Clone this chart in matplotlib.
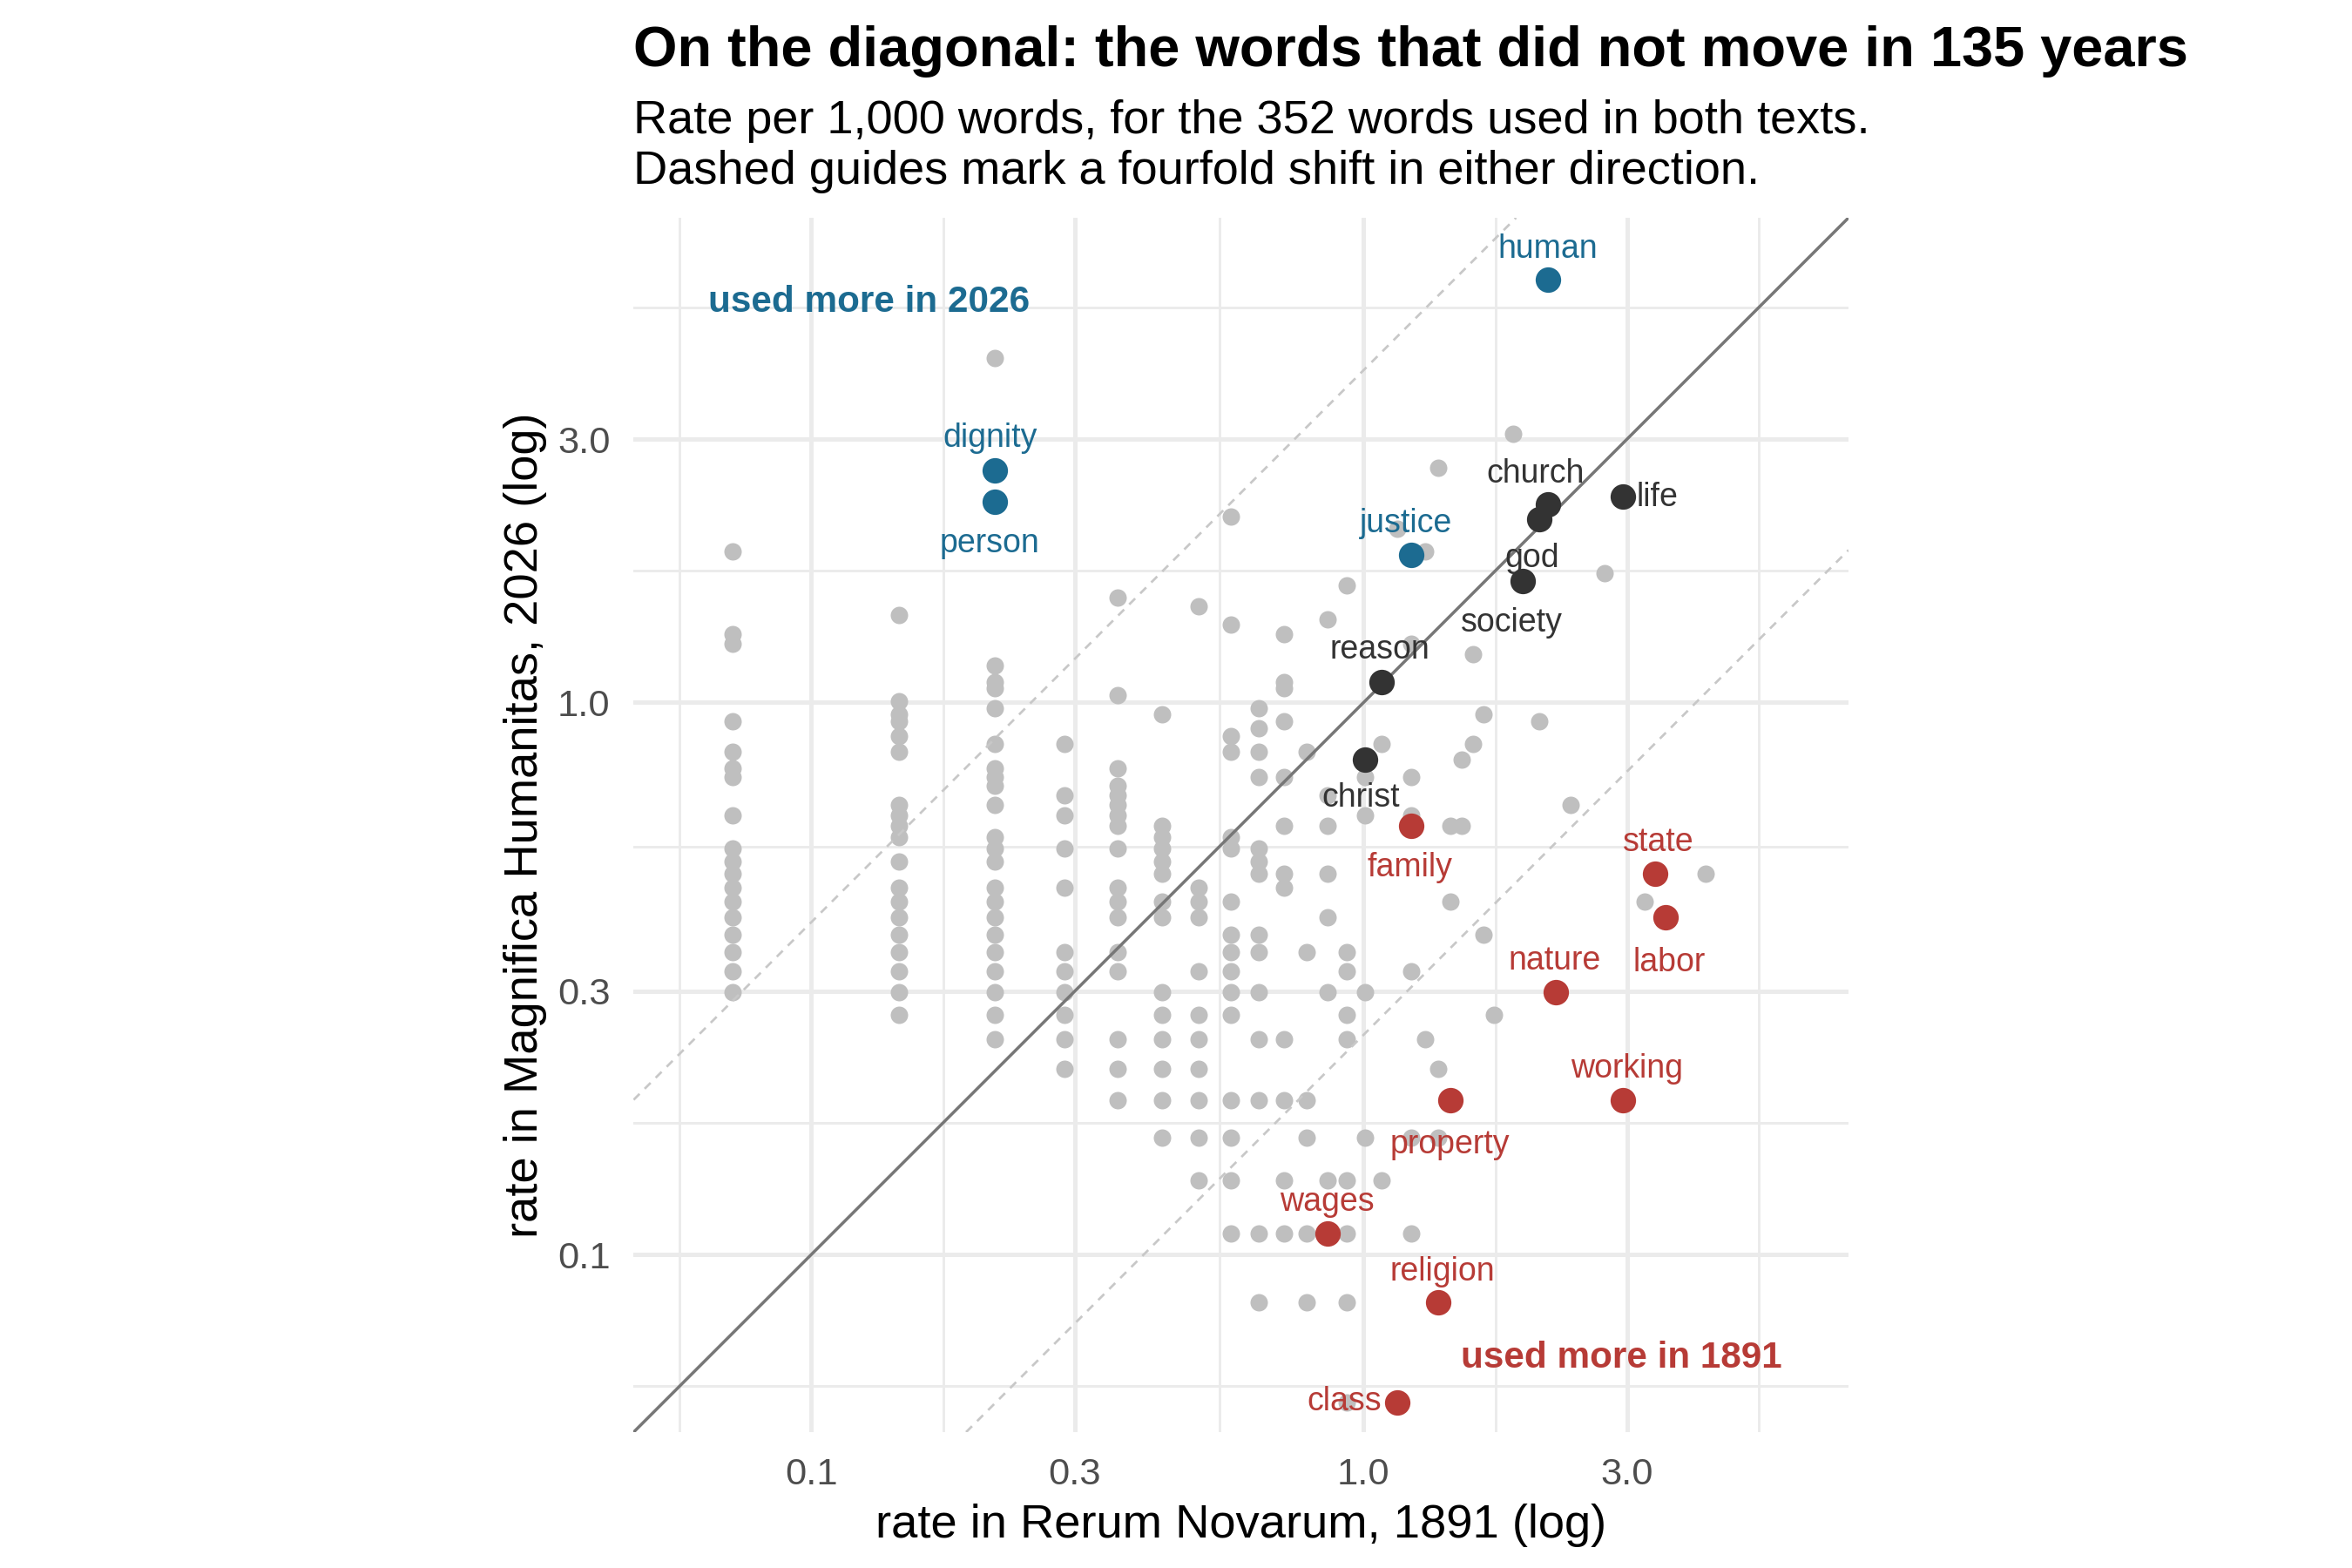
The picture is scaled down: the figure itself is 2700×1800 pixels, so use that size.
import matplotlib
matplotlib.use("Agg")
import matplotlib.pyplot as plt
from matplotlib.ticker import FixedLocator, FixedFormatter, NullFormatter

plt.rcParams['font.family'] = ['Liberation Sans', 'DejaVu Sans']

# ---------------- data (rate per 1,000 words) ----------------
# background words: x rate levels in Rerum Novarum and the 2026 rates found at each level
gray_x_levels = [0.072, 0.144, 0.215, 0.287, 0.359, 0.431, 0.503, 0.574, 0.646, 0.718,
                 0.790, 0.862, 0.933, 1.005, 1.077, 1.149, 1.221, 1.292, 1.364, 1.436,
                 1.508, 1.580, 1.651, 1.723, 1.867, 2.082, 2.369, 2.728, 3.231, 4.164]
gray_y_by_level = [
    [1.875, 1.331, 1.277, 0.924, 0.815, 0.761, 0.734, 0.625, 0.543, 0.516, 0.489, 0.462,
     0.435, 0.408, 0.380, 0.353, 0.326, 0.299],
    [1.440, 1.005, 0.951, 0.924, 0.869, 0.815, 0.652, 0.625, 0.598, 0.571, 0.516, 0.462,
     0.435, 0.408, 0.380, 0.353, 0.326, 0.299, 0.272],
    [4.211, 1.168, 1.087, 1.060, 0.978, 0.842, 0.761, 0.734, 0.706, 0.652, 0.571, 0.543,
     0.516, 0.462, 0.435, 0.408, 0.380, 0.353, 0.326, 0.299, 0.272, 0.245],
    [0.842, 0.679, 0.625, 0.543, 0.462, 0.353, 0.326, 0.299, 0.272, 0.245, 0.217],
    [1.549, 1.032, 0.761, 0.706, 0.679, 0.652, 0.625, 0.598, 0.543, 0.462, 0.435, 0.408,
     0.353, 0.326, 0.245, 0.217, 0.190],
    [0.951, 0.598, 0.571, 0.543, 0.516, 0.489, 0.435, 0.408, 0.299, 0.272, 0.245, 0.217,
     0.190, 0.163],
    [1.494, 0.462, 0.435, 0.408, 0.326, 0.272, 0.245, 0.217, 0.190, 0.163, 0.136],
    [2.174, 1.386, 0.869, 0.815, 0.571, 0.543, 0.435, 0.380, 0.353, 0.326, 0.299, 0.272,
     0.190, 0.163, 0.136, 0.109],
    [0.978, 0.897, 0.815, 0.734, 0.543, 0.516, 0.489, 0.380, 0.353, 0.299, 0.245, 0.190,
     0.109, 0.082],
    [1.331, 1.087, 1.060, 0.924, 0.734, 0.598, 0.489, 0.462, 0.245, 0.190, 0.136, 0.109],
    [0.815, 0.353, 0.190, 0.163, 0.109, 0.082],
    [1.413, 0.679, 0.598, 0.489, 0.408, 0.299, 0.136],
    [1.630, 0.353, 0.326, 0.272, 0.245, 0.136, 0.109, 0.082, 0.054],
    [0.734, 0.625, 0.299, 0.163],
    [0.842, 0.136],
    [2.065],
    [1.277, 0.734, 0.625, 0.326, 0.163, 0.109],
    [1.875, 0.245],
    [2.663, 0.217, 0.163],
    [0.598, 0.435],
    [0.788, 0.598],
    [1.223, 0.842],
    [0.951, 0.380],
    [0.272],
    [3.070],
    [0.924],
    [0.652],
    [1.712],
    [0.435],
    [0.489],
]

# highlighted words
hl_words = ['human', 'dignity', 'person', 'justice',
            'church', 'society', 'life', 'god', 'reason', 'christ',
            'family', 'state', 'labor', 'nature', 'working', 'property',
            'wages', 'religion', 'class']
hl_x = [2.154, 0.215, 0.215, 1.221,
        2.154, 2.082, 2.944, 1.939, 1.077, 1.005,
        1.221, 3.375, 3.518, 2.226, 2.944, 1.436,
        0.862, 1.364, 1.149]
hl_y = [5.842, 2.635, 2.309, 1.848,
        2.282, 2.146, 2.364, 1.657, 1.087, 0.788,
        0.598, 0.489, 0.408, 0.299, 0.190, 0.190,
        0.109, 0.082, 0.054]
hl_group = ['2026', '2026', '2026', '2026',
            'stable', 'stable', 'stable', 'stable', 'stable', 'stable',
            '1891', '1891', '1891', '1891', '1891', '1891',
            '1891', '1891', '1891']

tick_values = [0.1, 0.3, 1.0, 3.0]
tick_labels = ['0.1', '0.3', '1.0', '3.0']
minor_values = [0.0577, 0.1732, 0.5477, 1.7321, 5.196]

# ---------------- style ----------------
BLUE = '#1C6B91'
RED = '#B73B36'
DARK = '#333333'
GRAY_PT = '#BFBFBF'
group_color = {'2026': BLUE, '1891': RED, 'stable': DARK}

# label offsets in points (dx, dy) and alignment
label_pos = {
    'human': (0, 10, 'center'), 'dignity': (-2.3, 10.6, 'center'),
    'person': (-2.3, -23.2, 'center'), 'justice': (-2.6, 10.7, 'center'),
    'church': (-5.7, 10.3, 'center'), 'society': (-12.8, -51.4, 'center'),
    'life': (6.3, -4.7, 'left'), 'god': (4.3, 6.6, 'center'),
    'reason': (-0.9, 10.8, 'center'), 'christ': (-1.9, -21.8, 'center'),
    'family': (-0.6, -23.1, 'center'), 'state': (1.4, 10.4, 'center'),
    'labor': (1.7, -24.6, 'center'), 'nature': (-0.3, 10.1, 'center'),
    'working': (2.1, 10.6, 'center'), 'property': (-0.3, -24.3, 'center'),
    'wages': (-0.4, 10.4, 'center'), 'religion': (2.0, 10.0, 'center'),
    'class': (-6.9, -3.6, 'right'),
}

W, H = 2700, 1800
fig = plt.figure(figsize=(15, 10), dpi=180)
fig.patch.set_facecolor('white')
ax_left, ax_right, ax_top, ax_bottom = 727.4, 2122.0, 250.0, 1644.0
ax = fig.add_axes([ax_left / W, 1 - ax_bottom / H, (ax_right - ax_left) / W, (ax_bottom - ax_top) / H])
ax.set_xscale('log')
ax.set_yscale('log')
lo, hi = 0.06 / 10 ** 0.1, 6 * 10 ** 0.1
ax.set_xlim(lo, hi)
ax.set_ylim(lo, hi)

for axis in (ax.xaxis, ax.yaxis):
    axis.set_major_locator(FixedLocator(tick_values))
    axis.set_major_formatter(FixedFormatter(tick_labels))
    axis.set_minor_locator(FixedLocator(minor_values))
    axis.set_minor_formatter(NullFormatter())
ax.grid(which='major', color='#EBEBEB', lw=2.0)
ax.grid(which='minor', color='#EBEBEB', lw=1.2)
ax.set_axisbelow(True)
ax.tick_params(which='both', length=0)
ax.tick_params(axis='x', pad=11.5, labelsize=17.4, labelcolor='#4D4D4D')
ax.tick_params(axis='y', pad=10.7, labelsize=17.4, labelcolor='#4D4D4D')
for s in ax.spines.values():
    s.set_visible(False)

# background points
gx, gy = [], []
for xv, ys in zip(gray_x_levels, gray_y_by_level):
    for yv in ys:
        gx.append(xv)
        gy.append(yv)
ax.scatter(gx, gy, s=64, color=GRAY_PT, linewidths=0, zorder=2)

# reference lines
ax.axline((1, 1), (2, 2), color='#777777', lw=1.4, zorder=3)
ax.axline((1, 4), (2, 8), color='#C8C8C8', lw=1.1, ls=(0, (3.5, 3)), zorder=3)
ax.axline((1, 0.25), (2, 0.5), color='#C8C8C8', lw=1.1, ls=(0, (3.5, 3)), zorder=3)

# highlighted points + labels
for w, xv, yv, g in zip(hl_words, hl_x, hl_y, hl_group):
    c = group_color[g]
    ax.scatter([xv], [yv], s=137, color=c, linewidths=0, zorder=4)
    dx, dy, ha = label_pos[w]
    ax.annotate(w, (xv, yv), xytext=(dx, dy), textcoords='offset points',
                ha=ha, va='baseline', fontsize=15, color=c, zorder=5)

ax.text(0.127, 5.11, 'used more in 2026', ha='center', va='baseline',
        fontsize=16.9, fontweight='bold', color=BLUE, zorder=5)
ax.text(2.93, 0.0623, 'used more in 1891', ha='center', va='baseline',
        fontsize=16.9, fontweight='bold', color=RED, zorder=5)

# titles
fig.text(ax_left / W, 1 - 75.9 / H, 'On the diagonal: the words that did not move in 135 years',
         ha='left', va='baseline', fontsize=26.0, fontweight='bold', color='black')
fig.text(ax_left / W, 1 - 153.1 / H, 'Rate per 1,000 words, for the 352 words used in both texts.',
         ha='left', va='baseline', fontsize=21.65, color='black')
fig.text(ax_left / W, 1 - 211.1 / H, 'Dashed guides mark a fourfold shift in either direction.',
         ha='left', va='baseline', fontsize=21.65, color='black')

fig.text((ax_left + ax_right) / 2 / W, 1 - 1765 / H, 'rate in Rerum Novarum, 1891 (log)',
         ha='center', va='baseline', fontsize=21.75, color='black')
fig.text(603.5 / W, 1 - (ax_top + ax_bottom) / 2 / H, 'rate in Magnifica Humanitas, 2026 (log)',
         ha='center', va='center', rotation=90, fontsize=21.75, color='black')

fig.savefig('out.png', dpi=180, facecolor='white')
